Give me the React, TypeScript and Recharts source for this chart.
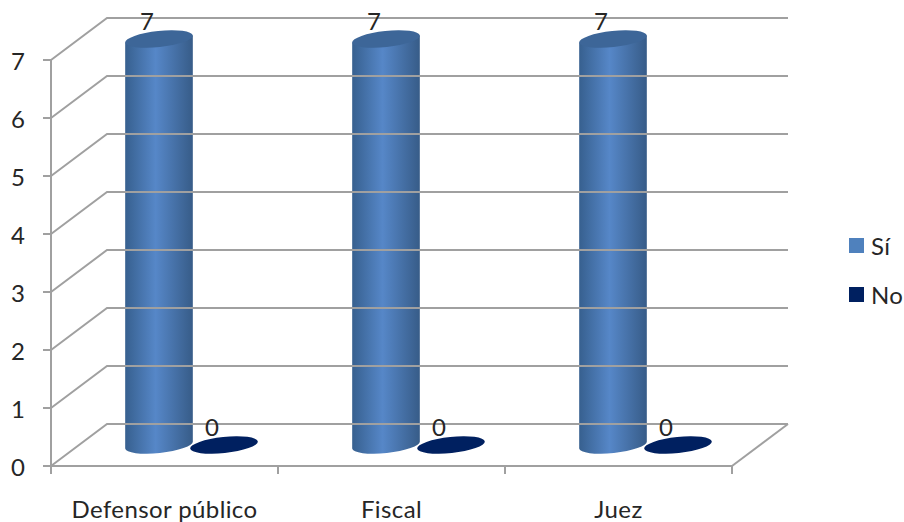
import React from "react";
import { Bar, BarChart, LabelList, Legend, XAxis, YAxis } from "recharts";

const categories = ["Defensor público", "Fiscal", "Juez"];
const siValues = [7, 7, 7];
const noValues = [0, 0, 0];
const yTicks = [0, 1, 2, 3, 4, 5, 6, 7];

const rows = categories.map((name, i) => ({ name, si: siValues[i], no: noValues[i] }));

const FONT = "Lato, sans-serif";
const FONT_SIZE = 24;
const TRACKING = 0.4;
const TEXT = "#262626";
const GRID = "#a0a0a0";

const PLOT_LEFT = 51;
const PLOT_RIGHT = 732;
// depth of the fake 3D box, wall sits up and to the right of the front face
const DEPTH_X = 56;
const DEPTH_Y = 42;
const BAND = (PLOT_RIGHT - PLOT_LEFT) / categories.length;
// recharts hands the tick renderer a y already pushed below the axis line
const TICK_DROP = 8;

function WallTick({ y, payload }: any) {
  const isFloor = payload.value === 0;
  return (
    <g>
      <line x1={PLOT_LEFT - 8} x2={PLOT_LEFT} y1={y} y2={y} stroke={GRID} strokeWidth={2} />
      <polyline
        points={`${PLOT_LEFT},${y} ${PLOT_LEFT + DEPTH_X},${y - DEPTH_Y} ${PLOT_RIGHT + DEPTH_X},${y - DEPTH_Y}`}
        fill="none"
        stroke={GRID}
        strokeWidth={2}
      />
      {isFloor && (
        <line
          x1={PLOT_RIGHT}
          y1={y}
          x2={PLOT_RIGHT + DEPTH_X}
          y2={y - DEPTH_Y}
          stroke={GRID}
          strokeWidth={2}
        />
      )}
      <text
        x={18}
        y={y}
        fontFamily={FONT}
        fontSize={FONT_SIZE}
        fill={TEXT}
        textAnchor="middle"
        dominantBaseline="central"
      >
        {payload.value}
      </text>
    </g>
  );
}

function CategoryTick({ x, y, payload, index }: any) {
  const left = x - BAND / 2;
  return (
    <g>
      <line x1={left} x2={left} y1={y - TICK_DROP} y2={y} stroke={GRID} strokeWidth={2} />
      {index === categories.length - 1 && (
        <line x1={left + BAND} x2={left + BAND} y1={y - TICK_DROP} y2={y} stroke={GRID} strokeWidth={2} />
      )}
      <text
        x={x}
        y={y + 34}
        fontFamily={FONT}
        fontSize={FONT_SIZE}
        letterSpacing={TRACKING}
        fill={TEXT}
        textAnchor="middle"
        dominantBaseline="central"
      >
        {payload.value}
      </text>
    </g>
  );
}

// tilted ellipse end shared by the cylinder top and the flat zero-height disc
const TILT = -6;
const RY = 8;
// cylinders stand halfway into the box, a touch left of its exact centre
const BAR_SHIFT_X = 27;

function Cylinder({ x, y, width, height, topFill, bodyFill }: any) {
  const rx = width / 2;
  const cx = x + rx + BAR_SHIFT_X;
  const topY = y - DEPTH_Y / 2;
  const bottomY = topY + height;
  const dx = rx * Math.cos((TILT * Math.PI) / 180);
  const dy = rx * Math.sin((TILT * Math.PI) / 180);
  const ellipse = (
    <ellipse
      cx={cx}
      cy={topY}
      rx={rx}
      ry={RY}
      fill={topFill}
      transform={`rotate(${TILT} ${cx} ${topY})`}
    />
  );
  if (height <= 0) return ellipse;
  const body = [
    `M${cx - dx},${topY - dy}`,
    `L${cx - dx},${bottomY - dy}`,
    `A${rx},${RY} ${TILT} 0 0 ${cx + dx},${bottomY + dy}`,
    `L${cx + dx},${topY + dy}`,
    "Z",
  ].join(" ");
  return (
    <g>
      <path d={body} fill={bodyFill} />
      {ellipse}
    </g>
  );
}

const ValueLabel = ({ x, y, width, value }: any) => (
  <text
    x={x + width / 2 + 15}
    y={y - 40}
    fontFamily={FONT}
    fontSize={FONT_SIZE}
    fill={TEXT}
    textAnchor="middle"
    dominantBaseline="central"
  >
    {value}
  </text>
);

const LegendList = ({ payload }: any) => (
  <div style={{ fontFamily: FONT, fontSize: FONT_SIZE, letterSpacing: TRACKING, color: TEXT }}>
    {payload.map((entry: any) => (
      <div key={entry.value} style={{ display: "flex", alignItems: "center", height: 49 }}>
        <span style={{ width: 15, height: 15, background: entry.color, marginRight: 7 }} />
        {entry.value}
      </div>
    ))}
  </div>
);

export default function App() {
  return (
    <div style={{ position: "absolute", left: 0, top: 0, width: 904, height: 522, background: "#fff" }}>
      <BarChart
        width={904}
        height={522}
        data={rows}
        margin={{ top: 60, right: 904 - PLOT_RIGHT, bottom: 0, left: 0 }}
        barSize={68}
        barGap={-3}
      >
        <defs>
          <linearGradient id="cylinderBody" x1="0" y1="0" x2="1" y2="0">
            <stop offset="0%" stopColor="#37608f" />
            <stop offset="45%" stopColor="#5687c8" />
            <stop offset="100%" stopColor="#375c88" />
          </linearGradient>
        </defs>
        <XAxis
          dataKey="name"
          height={56}
          tick={<CategoryTick />}
          tickLine={false}
          interval={0}
          axisLine={{ stroke: GRID, strokeWidth: 2 }}
        />
        <YAxis
          width={PLOT_LEFT}
          domain={[0, 7]}
          ticks={yTicks}
          tick={<WallTick />}
          tickLine={false}
          interval={0}
          axisLine={{ stroke: GRID, strokeWidth: 2 }}
        />
        <Legend
          layout="vertical"
          align="center"
          verticalAlign="middle"
          itemSorter={null}
          content={<LegendList />}
          wrapperStyle={{ left: 849, top: 221, width: 55 }}
        />
        <Bar
          dataKey="si"
          name="Sí"
          fill="#4f81bd"
          isAnimationActive={false}
          shape={<Cylinder topFill="#3d6698" bodyFill="url(#cylinderBody)" />}
        >
          <LabelList dataKey="si" content={<ValueLabel />} />
        </Bar>
        <Bar
          dataKey="no"
          name="No"
          fill="#002060"
          isAnimationActive={false}
          shape={<Cylinder topFill="#002060" bodyFill="#002060" />}
        >
          <LabelList dataKey="no" content={<ValueLabel />} />
        </Bar>
      </BarChart>
    </div>
  );
}
